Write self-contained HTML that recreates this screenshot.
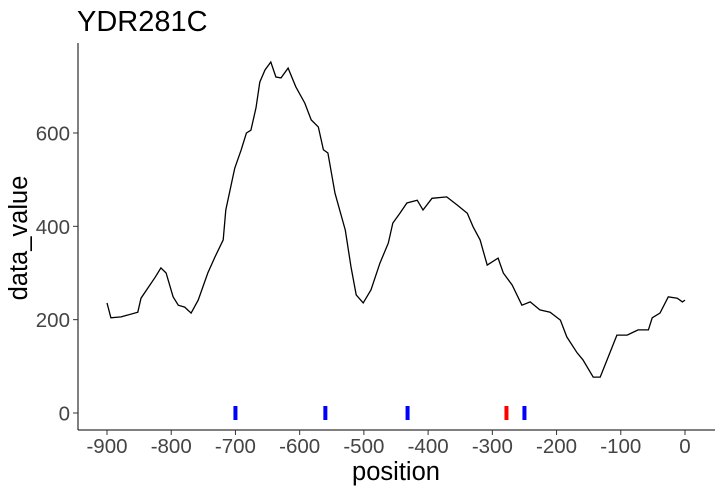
<!DOCTYPE html>
<html><head><meta charset="utf-8"><style>
body{margin:0;background:#fff;}
svg text{font-family:"Liberation Sans",sans-serif;}
</style></head><body>
<svg width="723" height="493" id="chart">
<text x="77" y="31" font-size="29" fill="#000">YDR281C</text>
<text x="396" y="480" font-size="25.5" text-anchor="middle" fill="#000">position</text>
<text transform="translate(27,238) rotate(-90)" font-size="25.5" text-anchor="middle" fill="#000">data_value</text>
<g id="axes"></g>
<g id="marks"></g>
</svg>
<script>
const positions=[-900,-894,-878,-852,-847,-825,-816,-808,-797,-789,-779,-769,-758,-743,-732,-719,-715,-704,-701,-691,-683,-676,-668,-662,-654,-645,-637,-629,-618,-606,-592,-582,-571,-563,-556,-545,-529,-520,-512,-501,-489,-475,-462,-455,-444,-433,-417,-408,-394,-371,-355,-339,-330,-319,-308,-291,-283,-269,-254,-241,-226,-210,-194,-184,-168,-159,-143,-132,-117,-106,-90,-73,-57,-51,-39,-26,-12,-4,0];
const values=[236,204,206,216,246,291,311,300,249,231,227,214,242,300,334,371,435,506,525,564,600,606,654,709,735,752,720,718,739,699,664,628,613,564,557,471,392,313,253,236,264,321,364,407,428,450,456,435,460,463,446,428,399,371,317,332,300,274,231,238,221,216,199,163,129,114,77,77,129,167,167,178,178,204,214,249,246,238,242];
const tickPositions=[-700,-560,-432,-278,-250];
const tickColors=["blue","blue","blue","red","blue"];
const xTicks=[-900,-800,-700,-600,-500,-400,-300,-200,-100,0];
const yTicks=[0,200,400,600];
const NS="http://www.w3.org/2000/svg";
const sx=v=>107+(v+900)*578/900;
const sy=v=>413-v*0.4667;
const axes=document.getElementById('axes'),marks=document.getElementById('marks');
function mk(tag,attrs,parent){const e=document.createElementNS(NS,tag);for(const k in attrs)e.setAttribute(k,attrs[k]);parent.appendChild(e);return e;}
let a=mk('line',{x1:78,y1:430,x2:715,y2:430,stroke:'#000','stroke-width':1},axes);


a=mk('line',{x1:78,y1:43,x2:78,y2:430,stroke:'#000','stroke-width':1},axes);


xTicks.forEach(t=>{
 const l=mk('line',{x1:sx(t),y1:430,x2:sx(t),y2:435,stroke:'#333'},axes);
 
 
 const tx=mk('text',{x:sx(t),y:453,'font-size':20.5,'text-anchor':'middle',fill:'#444'},axes);
 tx.textContent=t;
 
 
});
yTicks.forEach(t=>{
 const l=mk('line',{x1:73,y1:sy(t),x2:78,y2:sy(t),stroke:'#333'},axes);
 
 
 const tx=mk('text',{x:70,y:sy(t)+7.5,'font-size':20.5,'text-anchor':'end',fill:'#444'},axes);
 tx.textContent=t;
 
 
});
const p=mk('path',{d:positions.map((v,i)=>(i?'L':'M')+sx(v).toFixed(1)+','+sy(values[i]).toFixed(1)).join(''),fill:'none',stroke:'#000','stroke-width':1.3},marks);


tickPositions.forEach((t,i)=>{
 const r=mk('line',{x1:sx(t),y1:sy(15),x2:sx(t),y2:sy(-15),stroke:tickColors[i],'stroke-width':4},marks);
 
 
});
</script>
</body></html>
